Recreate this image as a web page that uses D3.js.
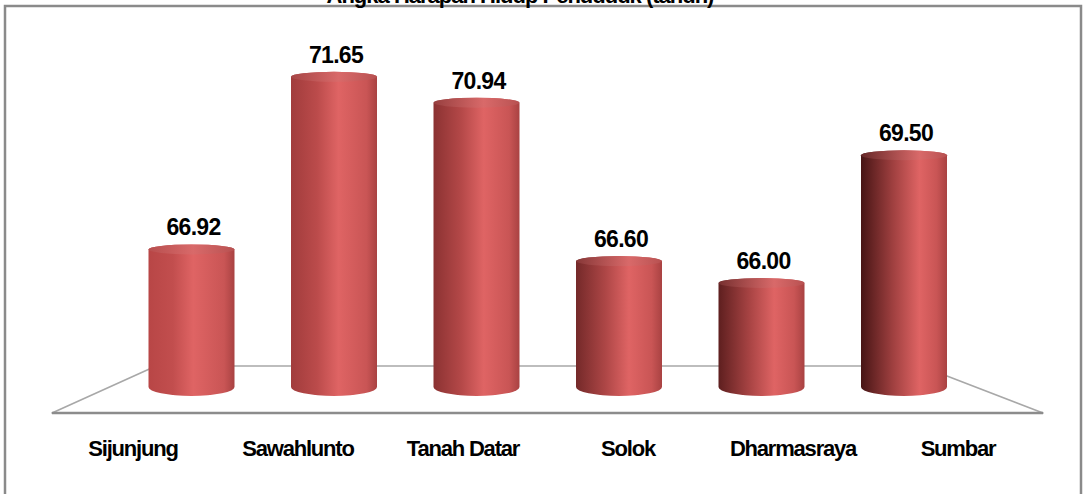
<!DOCTYPE html>
<html>
<head>
<meta charset="utf-8">
<script src="https://cdn.jsdelivr.net/npm/d3@7"></script>
<style>
  html, body { margin: 0; padding: 0; background: #fff; }
  svg { display: block; }
  text { font-family: "Liberation Sans", Arial, sans-serif; font-weight: bold; fill: #000; }
</style>
</head>
<body>
<svg id="chart" width="1084" height="494"></svg>
<script>
// Life expectancy by region (years)
const categories = ["Sijunjung", "Sawahlunto", "Tanah Datar", "Solok", "Dharmasraya", "Sumbar"];
const values = [66.92, 71.65, 70.94, 66.60, 66.00, 69.50];
const valueLabels = ["66.92", "71.65", "70.94", "66.60", "66.00", "69.50"];
const title = "Angka Harapan Hidup Penduduk (tahun)";

const svg = d3.select("#chart");

// Outer frame
svg.append("rect")
  .attr("x", 5).attr("y", 6).attr("width", 1076).attr("height", 500)
  .attr("fill", "#fff").attr("stroke", "#8a8a8a").attr("stroke-width", 2.5);

// Title (sits on the upper frame edge)
svg.append("text")
  .attr("x", 520).attr("y", 3)
  .attr("text-anchor", "middle")
  .attr("font-size", 22).attr("letter-spacing", -1)
  .text(title);

// Scales
const x = d3.scalePoint().domain(categories).range([191.5, 904]);
const xLabel = d3.scalePoint().domain(categories).range([133, 958]);
const y = d3.scaleLinear().domain([63, 72]).range([392.5, 64]);

// Floor in perspective
const floorFront = 413, floorBack = 366;
const floor = svg.append("g");
floor.append("path")
  .attr("d", `M52,${floorFront} L156,${floorBack} L921,${floorBack} L1043,${floorFront} Z`)
  .attr("fill", "#fff").attr("stroke", "#a8a8a8").attr("stroke-width", 1.6)
  .attr("stroke-linejoin", "round");
floor.append("line")
  .attr("x1", 52).attr("x2", 1043).attr("y1", floorFront).attr("y2", floorFront)
  .attr("stroke", "#8c8c8c").attr("stroke-width", 2.6);

// Cylinder shading gradients: the left side darkens toward the right of the chart
const defs = svg.append("defs");
const n = categories.length;
categories.forEach((c, i) => {
  const t = i / (n - 1);
  const leftCol = d3.interpolateRgb("#b84646", "#471515")(t);
  const hiPos = 0.52 + 0.16 * t;
  const g = defs.append("linearGradient")
    .attr("id", "cyl" + i).attr("x1", "0%").attr("x2", "100%").attr("y1", "0%").attr("y2", "0%");
  g.append("stop").attr("offset", "0%").attr("stop-color", leftCol);
  g.append("stop").attr("offset", (hiPos * 0.55 * 100) + "%").attr("stop-color", d3.interpolateRgb(leftCol, "#c65252")(0.7));
  g.append("stop").attr("offset", (hiPos * 100) + "%").attr("stop-color", "#df6464");
  g.append("stop").attr("offset", "88%").attr("stop-color", "#c95555");
  g.append("stop").attr("offset", "100%").attr("stop-color", "#a94242");

  const gt = defs.append("linearGradient")
    .attr("id", "cap" + i).attr("x1", "0%").attr("x2", "100%").attr("y1", "0%").attr("y2", "0%");
  gt.append("stop").attr("offset", "0%").attr("stop-color", d3.interpolateRgb("#b85050", "#6a2a2a")(t));
  gt.append("stop").attr("offset", (hiPos * 100) + "%").attr("stop-color", "#d86a6a");
  gt.append("stop").attr("offset", "100%").attr("stop-color", "#b85252");
});

// Cylinders
const rx = 43, ryTop = 5, ryBot = 9, baseY = 387;
const bars = svg.append("g").selectAll("g").data(categories).join("g");

bars.append("path")
  .attr("d", (c, i) => {
    const cx = x(c), top = y(values[i]);
    return `M${cx - rx},${top} L${cx - rx},${baseY} ` +
      `A${rx},${ryBot} 0 0 0 ${cx + rx},${baseY} ` +
      `L${cx + rx},${top} ` +
      `A${rx},${ryTop} 0 0 0 ${cx - rx},${top} Z`;
  })
  .attr("fill", (c, i) => `url(#cyl${i})`);

bars.append("ellipse")
  .attr("cx", c => x(c))
  .attr("cy", (c, i) => y(values[i]))
  .attr("rx", rx).attr("ry", ryTop)
  .attr("fill", (c, i) => `url(#cap${i})`)
  .attr("opacity", 0.9);

// Value labels
bars.append("text")
  .attr("x", c => x(c) + 2)
  .attr("y", (c, i) => y(values[i]) - ryTop - 9)
  .attr("text-anchor", "middle")
  .attr("font-size", 23).attr("letter-spacing", -0.7)
  .text((c, i) => valueLabels[i]);

// Category labels
svg.append("g").selectAll("text").data(categories).join("text")
  .attr("x", c => xLabel(c))
  .attr("y", 456)
  .attr("text-anchor", "middle")
  .attr("font-size", 22).attr("letter-spacing", -1.2)
  .text(c => c);
</script>
</body>
</html>
